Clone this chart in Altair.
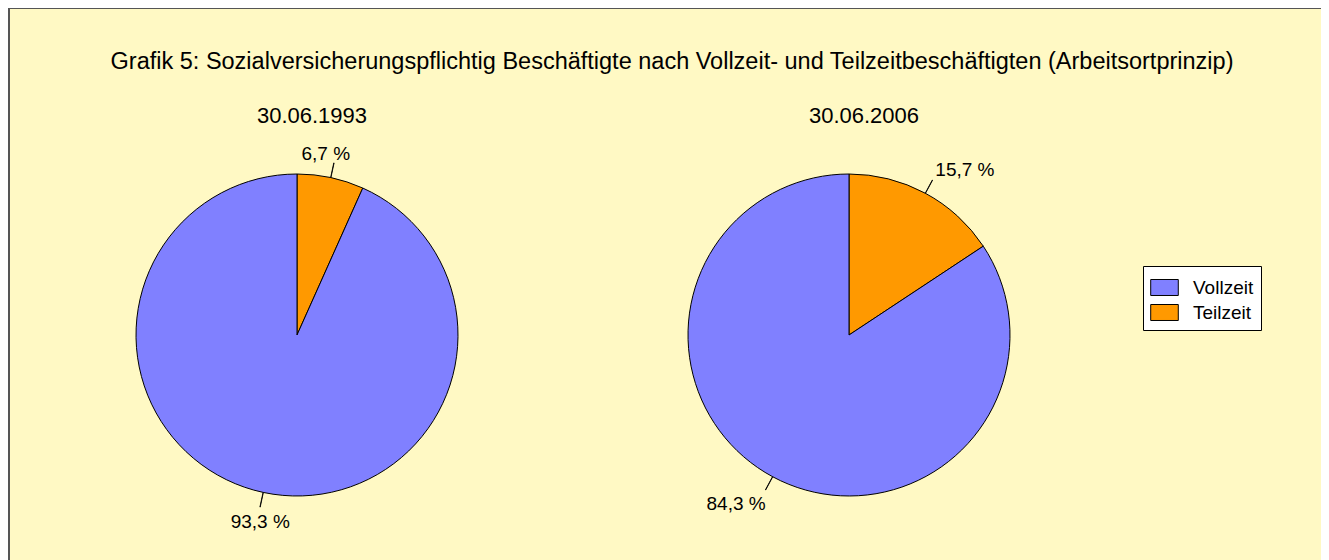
import altair as alt
import pandas as pd

# ---- data ----
TITLE = "Grafik 5: Sozialversicherungspflichtig Beschäftigte nach Vollzeit- und Teilzeitbeschäftigten (Arbeitsortprinzip)"
pies = ["30.06.1993", "30.06.2006"]
categories = ["Vollzeit", "Teilzeit"]
teilzeit = [6.7, 15.7]
vollzeit = [93.3, 84.3]
colors = ["#8080FF", "#FF9900"]

# ---- build table (slices in drawing order: Teilzeit from 12 o'clock, then Vollzeit) ----
rows = []
for p, t, v in zip(pies, teilzeit, vollzeit):
    start = 0.0
    for cat, val in (("Teilzeit", t), ("Vollzeit", v)):
        rows.append({
            "pie": p, "cat": cat, "share": val,
            "start": start, "end": start + val,
            "mid": start + val / 2,
            "label": f"{val:.1f}".replace(".", ",") + " %",
        })
        start += val
df = pd.DataFrame(rows)

FONT = "Liberation Sans"
W, H = 1313, 552
CY = 327

xscale = alt.Scale(type="point", domain=pies, range=[289, 841], padding=0)
tscale = alt.Scale(domain=[0, 100], range=[0, 6.283185307179586])
X = alt.X("pie:N", scale=xscale, axis=None)

base = alt.Chart(df)

slices = base.mark_arc(outerRadius=161, stroke="black", strokeWidth=1).encode(
    x=X,
    y=alt.value(CY),
    theta=alt.Theta("start:Q", scale=tscale, stack=None),
    theta2="end:Q",
    color=alt.Color(
        "cat:N",
        scale=alt.Scale(domain=categories, range=colors),
        legend=alt.Legend(
            title=None, orient="none", legendX=1135, legendY=258,
            fillColor="white", strokeColor="black", padding=7,
            symbolType="M-1,-0.58L1,-0.58L1,0.58L-1,0.58Z", symbolSize=760,
            symbolStrokeColor="black", symbolStrokeWidth=1,
            labelFont=FONT, labelFontSize=19, labelColor="black",
            labelOffset=14, rowPadding=-1, cornerRadius=0,
        ),
    ),
)

leaders = base.transform_calculate(mid2="datum.mid + 0.03").mark_arc(
    innerRadius=161, outerRadius=176, fill="black", stroke="black", strokeWidth=0.8
).encode(
    x=X,
    y=alt.value(CY),
    theta=alt.Theta("mid:Q", scale=tscale, stack=None),
    theta2="mid2:Q",
)

label_styles = {
    (pies[0], "Teilzeit"): dict(align="center", dx=-8, dy=-3),
    (pies[0], "Vollzeit"): dict(align="center", dx=0, dy=21),
    (pies[1], "Teilzeit"): dict(align="left", dx=3, dy=-4),
    (pies[1], "Vollzeit"): dict(align="right", dx=0, dy=20),
}
label_layers = []
for (p, c), st in label_styles.items():
    label_layers.append(
        base.transform_filter(
            (alt.datum.pie == p) & (alt.datum.cat == c)
        ).mark_text(
            font=FONT, fontSize=19, color="black", baseline="alphabetic", **st
        ).encode(
            x=X,
            y=alt.value(CY),
            theta=alt.Theta("mid:Q", scale=tscale, stack=None),
            radius=alt.value(176),
            text="label:N",
        )
    )

subtitles = alt.Chart(pd.DataFrame({"pie": pies})).mark_text(
    font=FONT, fontSize=22, color="black", baseline="alphabetic", dx=15
).encode(x=X, y=alt.value(115), text="pie:N")

title = alt.Chart(pd.DataFrame({"t": [TITLE]})).mark_text(
    font=FONT, fontSize=23.5, color="black", baseline="alphabetic"
).encode(x=alt.value(664), y=alt.value(61), text="t:N")

one = pd.DataFrame({"a": [0]})
border_left = alt.Chart(one).mark_rule(color="#555555", strokeWidth=2).encode(
    x=alt.value(1), y=alt.value(0), y2=alt.value(H)
)
border_top = alt.Chart(one).mark_rule(color="#555555", strokeWidth=2).encode(
    x=alt.value(0), x2=alt.value(W), y=alt.value(0)
)

chart = alt.layer(
    slices, leaders, *label_layers, subtitles, title, border_left, border_top
).properties(
    width=W, height=H, padding=0, autosize="none", background="#FFF9C4"
).configure_view(stroke=None)

chart.save("out.html", embed_options={"renderer": "svg", "actions": False})
